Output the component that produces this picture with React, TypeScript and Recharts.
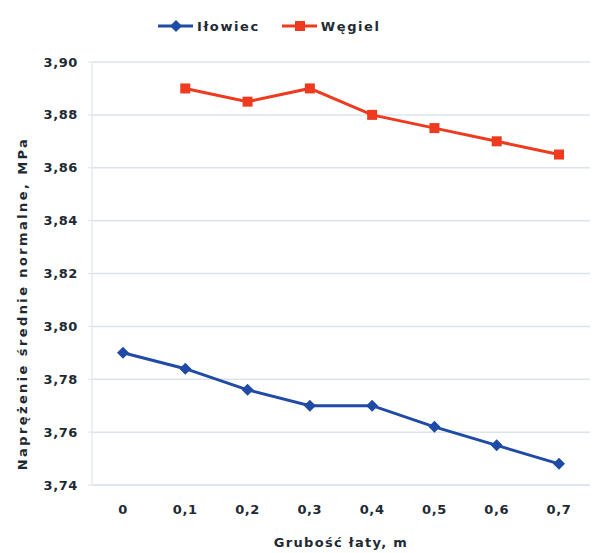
import React from 'react';
import { LineChart, Line, XAxis, YAxis, CartesianGrid, Legend } from 'recharts';

const THICKNESS = ['0', '0,1', '0,2', '0,3', '0,4', '0,5', '0,6', '0,7'];
const ILOWIEC = [3.79, 3.784, 3.776, 3.77, 3.77, 3.762, 3.755, 3.748];
const WEGIEL = [null, 3.89, 3.885, 3.89, 3.88, 3.875, 3.87, 3.865];
const Y_TICKS = [3.74, 3.76, 3.78, 3.8, 3.82, 3.84, 3.86, 3.88, 3.9];

const BLUE = '#1f4aa6';
const RED = '#ee3a1f';
const FONT = '"DejaVu Sans", Verdana, sans-serif';
const TEXT = '#1e2a33';

const data = THICKNESS.map((t, i) => ({ t, ilowiec: ILOWIEC[i], wegiel: WEGIEL[i] }));

const diamond = (props: any) => {
  const { cx, cy, index } = props;
  if (cx == null || cy == null) return <g key={`d-${index}`} />;
  const r = 6;
  return (
    <polygon
      key={`d-${index}`}
      points={`${cx},${cy - r} ${cx + r},${cy} ${cx},${cy + r} ${cx - r},${cy}`}
      fill={BLUE}
    />
  );
};

const square = (props: any) => {
  const { cx, cy, index } = props;
  if (cx == null || cy == null) return <g key={`s-${index}`} />;
  const r = 5;
  return <rect key={`s-${index}`} x={cx - r} y={cy - r} width={r * 2} height={r * 2} fill={RED} />;
};

const LegendContent = () => {
  const item = (name: string, color: string, kind: 'diamond' | 'square', gap: number) => (
    <span style={{ display: 'inline-flex', alignItems: 'center', marginRight: gap }}>
      <svg width={39} height={14}>
        <line x1={0} y1={7} x2={35} y2={7} stroke={color} strokeWidth={3} />
        {kind === 'diamond' ? (
          <polygon points="18,1 24,7 18,13 12,7" fill={color} />
        ) : (
          <rect x={13} y={2} width={10} height={10} fill={color} />
        )}
      </svg>
      <span style={{ fontFamily: FONT, fontWeight: 700, fontSize: 13, letterSpacing: 1.6, color: TEXT }}>{name}</span>
    </span>
  );
  return (
    <div style={{ height: 24, display: 'flex', alignItems: 'center', paddingLeft: 158 }}>
      {item('Iłowiec', BLUE, 'diamond', 22)}
      {item('Węgiel', RED, 'square', 0)}
    </div>
  );
};

export default function App() {
  const tickStyle = { fontFamily: FONT, fontWeight: 700, fontSize: 13, fill: TEXT, letterSpacing: 0.6 };
  return (
    <div style={{ position: 'absolute', left: 0, top: 0, background: '#fff' }}>
      <LineChart width={605} height={553} data={data} margin={{ top: 38, right: 15, bottom: 0, left: 0 }}>
        <Legend
          verticalAlign="top"
          align="left"
          content={<LegendContent />}
          wrapperStyle={{ top: 14, left: 0, width: 605, height: 24 }}
        />
        <CartesianGrid vertical={false} stroke="#dbe4ec" strokeWidth={1.5} />
        <XAxis
          dataKey="t"
          height={68}
          padding={{ left: 31, right: 31 }}
          axisLine={{ stroke: '#dbe4ec', strokeWidth: 1.5 }}
          tickLine={false}
          tickSize={0}
          tickMargin={20}
          tick={tickStyle}
          label={{
            value: 'Grubość łaty, m',
            position: 'insideBottom',
            offset: 6,
            style: { fontFamily: FONT, fontWeight: 700, fontSize: 13, fill: TEXT, letterSpacing: 1.3 },
          }}
        />
        <YAxis
          width={92}
          domain={[3.74, 3.9]}
          ticks={Y_TICKS}
          interval={0}
          axisLine={{ stroke: '#e4ebf1', strokeWidth: 1.5 }}
          tickLine={{ stroke: '#dbe4ec' }}
          tickSize={4}
          tickMargin={10}
          tick={tickStyle}
          tickFormatter={(v: number) => v.toFixed(2).replace('.', ',')}
          label={{
            value: 'Naprężenie średnie normalne, MPa',
            angle: -90,
            position: 'center',
            dx: -24,
            dy: 30,
            style: { fontFamily: FONT, fontWeight: 700, fontSize: 13, fill: TEXT, letterSpacing: 2.4 },
          }}
        />
        <Line
          dataKey="ilowiec"
          stroke={BLUE}
          strokeWidth={3}
          dot={diamond}
          activeDot={false}
          isAnimationActive={false}
        />
        <Line
          dataKey="wegiel"
          stroke={RED}
          strokeWidth={3}
          dot={square}
          activeDot={false}
          isAnimationActive={false}
        />
      </LineChart>
    </div>
  );
}
